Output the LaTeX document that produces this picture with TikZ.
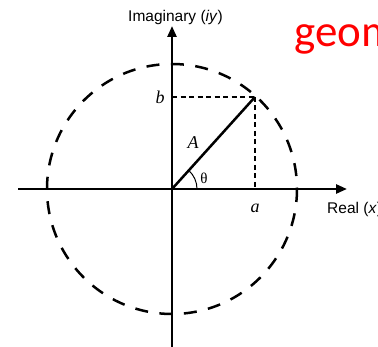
\documentclass[tikz,border=0pt]{standalone}
\usepackage{fontspec}
\setmainfont{Liberation Serif}
\setsansfont{Liberation Sans}
\newfontfamily\calib{Carlito}
\usetikzlibrary{arrows.meta}
\begin{document}
\begin{tikzpicture}[x=1pt,y=-1pt,
  axis/.style={line width=2.5pt,-{Triangle[length=11pt,width=9pt]}},
  circ/.style={line width=2.5pt,dash pattern=on 13pt off 11.5pt},
  proj/.style={line width=1.2pt,dash pattern=on 5pt off 3.5pt},
  lbl/.style={font=\fontsize{18}{18}\selectfont\itshape}]
\useasboundingbox (0,0) rectangle (378,347);
\clip (0,0) rectangle (378,347);
\coordinate (O) at (172,189);
\coordinate (P) at (255,97);
\coordinate (L) at (18,189);
\coordinate (R) at (347,189);
\coordinate (B) at (172,349);
\coordinate (T) at (172,26);
\coordinate (Pa) at (255,189);
\coordinate (Pb) at (172,97);
\draw[circ] (O) circle[radius=125];
\draw[axis] (L) -- (R);
\draw[axis] (B) -- (T);
\draw[proj] (Pb) -- (P);
\draw[proj] (P) -- (Pa);
\draw[line width=2.5pt] (O) -- (P);
\draw[line width=1pt] ([shift={(25,0)}]O) arc[start angle=0,end angle=-47.9,radius=25];
\node[lbl] (lb) at (160,97) {b};
\node[lbl] (la) at (255,208) {a};
\node[lbl] (lA) at (193,143) {A};
\node[font=\fontsize{15}{15}\selectfont] (lt) at (204,178) {θ};
\node[font=\sffamily\fontsize{15.5}{15.5}\selectfont,anchor=west,inner sep=0pt] (lim) at (128,17) {Imaginary (\textit{iy})};
\node[font=\sffamily\fontsize{15.5}{15.5}\selectfont,anchor=west,inner sep=0pt] (lre) at (327,209) {Real (\textit{x})};
\node[font=\calib\fontsize{45}{45}\selectfont,text=red,anchor=base west,inner sep=0pt] (geo) at (294,47) {geometric};
\end{tikzpicture}
\end{document}
